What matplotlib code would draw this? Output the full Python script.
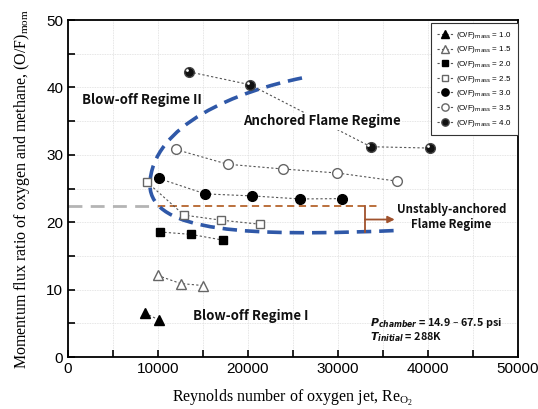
import matplotlib
matplotlib.use('Agg')
import matplotlib.pyplot as plt
from matplotlib.path import Path
from matplotlib.patches import PathPatch
import numpy as np

# O/F mass ratio series: Reynolds number, momentum flux ratio
re_10 = [8560, 10110]
mom_10 = [6.5, 5.5]
re_15 = [9960, 12520, 15040]
mom_15 = [12.1, 10.9, 10.6]
re_20 = [10220, 13630, 17180]
mom_20 = [18.55, 18.2, 17.35]
re_25 = [8740, 12890, 17040, 21330]
mom_25 = [26.0, 21.05, 20.3, 19.7]
re_30 = [10070, 15260, 20480, 25780, 30400]
mom_30 = [26.5, 24.2, 23.9, 23.45, 23.5]
re_35 = [11960, 17740, 23850, 29930, 36520]
mom_35 = [30.8, 28.6, 27.9, 27.3, 26.1]
re_40 = [13480, 20220, 33630, 40220]
mom_40 = [42.3, 40.4, 31.2, 31.0]

labels = ['1.0', '1.5', '2.0', '2.5', '3.0', '3.5', '4.0']

# regime boundary (bezier control points)
bound_x = [26000, 19000, 9200, 9100, 9200, 20000, 37000]
bound_y = [41.4, 39.5, 34.5, 25.5, 18.5, 17.8, 18.8]
limit_y = 22.45

plt.rcParams['font.family'] = ['Liberation Sans', 'DejaVu Sans']
plt.rcParams['mathtext.fontset'] = 'dejavusans'

fig = plt.figure(figsize=(5.38, 4.09), dpi=100)
ax = fig.add_axes([0.1264, 0.1271, 0.8364, 0.8240])

line_kw = dict(color='#555555', lw=0.8, ls=(0, (2, 2)))
styles = [
    (re_10, mom_10, dict(marker='^', mfc='black', mec='black', ms=7)),
    (re_15, mom_15, dict(marker='^', mfc='white', mec='#666666', ms=7)),
    (re_20, mom_20, dict(marker='s', mfc='black', mec='black', ms=6)),
    (re_25, mom_25, dict(marker='s', mfc='white', mec='#666666', ms=6)),
    (re_30, mom_30, dict(marker='o', mfc='black', mec='black', ms=7)),
    (re_35, mom_35, dict(marker='o', mfc='white', mec='#666666', ms=7)),
    (re_40, mom_40, dict(marker='o', mfc='#111111', mec='#444444', ms=7)),
]
handles = []
for (x, y, mk), lab in zip(styles, labels):
    h, = ax.plot(x, y, label=r'(O/F)$_{\mathrm{mass}}$ = ' + lab, zorder=4,
                 **line_kw, **mk)
    handles.append(h)
# highlight on the 4.0 spheres
ax.plot(np.array(re_40) - 250, np.array(mom_40) + 0.3, ls='none', marker='o',
        ms=2, mfc='white', mec='none', zorder=5)

# boundary curve
codes = [Path.MOVETO, Path.CURVE4, Path.CURVE4, Path.CURVE4,
         Path.CURVE4, Path.CURVE4, Path.CURVE4]
path = Path(np.column_stack([bound_x, bound_y]), codes)
ax.add_patch(PathPatch(path, fill=False, ec='#2F58A8', lw=2.6,
                       ls=(0, (4, 2.2)), zorder=3))

# reference lines
ax.plot([0, 10000], [limit_y, limit_y], color='#B4B4B4', lw=2,
        ls=(0, (5, 3)), zorder=2)
ax.plot([10000, 34300], [limit_y, limit_y], color='#B5652D', lw=1.3,
        ls=(0, (4, 2.5)), zorder=2)
ax.plot([33000, 33000], [limit_y, 18.5], color='#A0522D', lw=1.3, zorder=3)
ax.annotate('', xy=(36300, 20.4), xytext=(33000, 20.4),
            arrowprops=dict(arrowstyle='-|>', color='#A0522D', lw=1.3,
                            mutation_scale=10, shrinkA=0, shrinkB=0), zorder=3)

tkw = dict(fontsize=9.5, fontweight='bold', family=['Noto Sans CJK KR', 'DejaVu Sans'],
           color='#111111')
ax.text(1500, 38.1, 'Blow-off Regime II', ha='left', va='center', zorder=6, **tkw)
ax.text(28200, 35.0, 'Anchored Flame Regime', ha='center', va='center', zorder=6,
        bbox=dict(fc='white', ec='none', pad=1), **tkw)
ax.text(42600, 20.8, 'Unstably-anchored\nFlame Regime', ha='center', va='center',
        zorder=6, linespacing=1.15, **dict(tkw, fontsize=8.3))
ax.text(13900, 6.1, 'Blow-off Regime I', ha='left', va='center', zorder=6, **tkw)
ax.text(33600, 5.0, r'$\mathbfit{P}_{\mathbfit{chamber}}$ = 14.9 – 67.5 psi', ha='left',
        va='center', zorder=6, **dict(tkw, fontsize=7.8))
ax.text(33600, 3.0, r'$\mathbfit{T}_{\mathbfit{initial}}$ = 288K', ha='left',
        va='center', zorder=6, **dict(tkw, fontsize=7.8))

ax.set_xlim(0, 50000)
ax.set_ylim(0, 50)
ax.set_xticks(np.arange(0, 50001, 10000))
ax.set_xticks(np.arange(0, 50001, 5000), minor=True)
ax.set_yticks(np.arange(0, 51, 10))
ax.set_yticks(np.arange(0, 51, 5), minor=True)
ax.tick_params(which='both', direction='in', length=5, width=1.2, labelsize=11,
               top=False, right=False)
ax.grid(which='both', color='#DDDDDD', lw=0.6, ls=(0, (1, 1)))
ax.set_axisbelow(True)
for s in ax.spines.values():
    s.set_linewidth(1.3)

sfont = dict(family='Liberation Serif', fontsize=11.5)
ax.set_xlabel(r'Reynolds number of oxygen jet, $\mathregular{Re_{O_2}}$', labelpad=9, **sfont)
ax.set_ylabel(r'Momentum flux ratio of oxygen and methane, $\mathregular{(O/F)_{mom}}$',
              labelpad=10, **sfont)

leg = ax.legend(handles=handles, loc='upper right', bbox_to_anchor=(1.0, 0.99),
                borderaxespad=0, fontsize=5.8, handlelength=2.0, handletextpad=0.3,
                labelspacing=0.45, borderpad=0.8, fancybox=False, edgecolor='#333333',
                framealpha=1, markerscale=0.75)
leg.get_frame().set_linewidth(0.8)

fig.savefig('out.png', dpi=100)
